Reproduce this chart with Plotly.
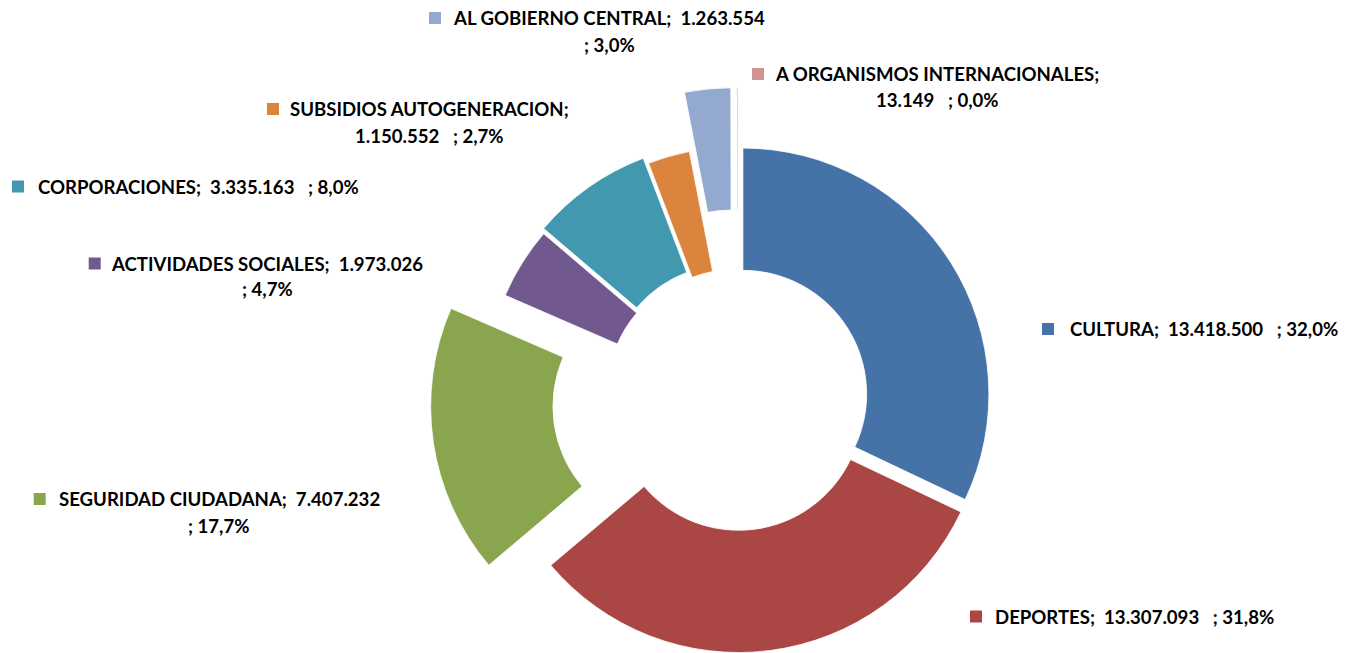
import math
import plotly.graph_objects as go

# ---------------- data ----------------
CATEGORIES = [
    "CULTURA",
    "DEPORTES",
    "SEGURIDAD CIUDADANA",
    "ACTIVIDADES SOCIALES",
    "CORPORACIONES",
    "SUBSIDIOS AUTOGENERACION",
    "AL GOBIERNO CENTRAL",
    "A ORGANISMOS INTERNACIONALES",
]
VALUES = [13418500, 13307093, 7407232, 1973026, 3335163, 1150552, 1263554, 13149]
PERCENT_LABELS = ["32,0%", "31,8%", "17,7%", "4,7%", "8,0%", "2,7%", "3,0%", "0,0%"]

# ---------------- style / layout ----------------
COLORS = ["#4572A7", "#AA4643", "#89A54E", "#71588F",
          "#4198AF", "#DB843D", "#93A9CF", "#D39391"]
PULLS = [0.026, 0.037, 0.25, 0.032, 0.047, 0.019, 0.26, 0.26]   # fraction of radius
BORDER_W = [0.8, 0.8, 0.8, 0.8, 0.8, 0.8, 0.8, 0.0]

PAGE_W, PAGE_H = 1347, 653
OFF = 8                      # default body margin of the html page
W, H = PAGE_W - OFF, PAGE_H - OFF
CX, CY, R = 737.5, 397.5, 246.0   # page pixel coordinates
HOLE = 0.503

FONT_FAMILY = "Lato"
FONT_SIZE = 18.6
TEXT_DY = -1

# label layout (page px): (text centre x, line-1 y, line-2 y or None, text left x, wrap mode)
LABEL_LAYOUT = [
    (1204.0, 330.0, None, 1066.0, "one"),
    (1134.5, 617.5, None, 994.0, "one"),
    (219.3, 500.0, 526.7, 57.7, "pct"),
    (267.0, 264.5, 290.5, 112.7, "pct"),
    (198.0, 187.5, None, 36.0, "one"),
    (429.6, 110.0, 136.7, 291.0, "val"),
    (609.0, 19.0, 45.5, 453.0, "pct"),
    (937.0, 75.0, 101.0, 776.0, "val"),
]
SQUARE = 12
SQUARE_GAP = 24

NB = "\u00a0"


def px(x):
    return (x - OFF) / W


def py(y):
    return 1 - (y - OFF) / H


def fmt_value(v):
    return f"{v:,}".replace(",", ".")


fig = go.Figure()

total = float(sum(VALUES))
cum = 0.0
n = len(VALUES)
for i, v in enumerate(VALUES):
    mid = (cum + v / 2.0) / total
    cum += v
    theta = 2 * math.pi * mid
    dx, dy = math.sin(theta), -math.cos(theta)
    cx = CX + PULLS[i] * R * dx
    cy = CY + PULLS[i] * R * dy
    x0 = max(0.0, px(cx - R))
    x1 = min(1.0, px(cx + R))
    y0 = max(0.0, py(cy + R))
    y1 = min(1.0, py(cy - R))
    colors = [COLORS[j] if j == i else "rgba(0,0,0,0)" for j in range(n)]
    widths = [BORDER_W[j] if j == i else 0 for j in range(n)]
    fig.add_trace(go.Pie(
        values=VALUES,
        labels=CATEGORIES,
        sort=False,
        direction="clockwise",
        rotation=0,
        hole=HOLE,
        marker=dict(colors=colors, line=dict(color="white", width=widths)),
        textinfo="none",
        hoverinfo="skip",
        showlegend=False,
        domain=dict(x=[x0, x1], y=[y0, y1]),
    ))

annotations = []
shapes = []
for i, name in enumerate(CATEGORIES):
    xc, y1, y2, xl, mode = LABEL_LAYOUT[i]
    val = fmt_value(VALUES[i])
    pct = PERCENT_LABELS[i]
    if mode == "one":
        lines = [f"{name};{NB}{NB}{val}{NB}{NB}{NB};{NB}{pct}"]
    elif mode == "pct":
        lines = [f"{name};{NB}{NB}{val}", f";{NB}{pct}"]
    else:
        lines = [f"{name};", f"{val}{NB}{NB}{NB};{NB}{pct}"]
    ys = [y1] if y2 is None else [y1, y2]
    for txt, yy in zip(lines, ys):
        annotations.append(dict(
            x=px(xc), y=py(yy + TEXT_DY), xref="paper", yref="paper",
            xanchor="center", yanchor="middle", showarrow=False,
            text=txt,
            font=dict(family=FONT_FAMILY, size=FONT_SIZE, color="#000000", weight="bold"),
        ))
    sx = xl - SQUARE_GAP
    sy = y1 - 1
    shapes.append(dict(
        type="rect", xref="paper", yref="paper",
        x0=px(sx), x1=px(sx + SQUARE),
        y0=py(sy + SQUARE / 2), y1=py(sy - SQUARE / 2),
        fillcolor=COLORS[i], line=dict(width=0),
    ))

fig.update_layout(
    width=W, height=H,
    margin=dict(l=0, r=0, t=0, b=0),
    paper_bgcolor="white",
    plot_bgcolor="white",
    annotations=annotations,
    shapes=shapes,
)

fig.write_html("out.html")
